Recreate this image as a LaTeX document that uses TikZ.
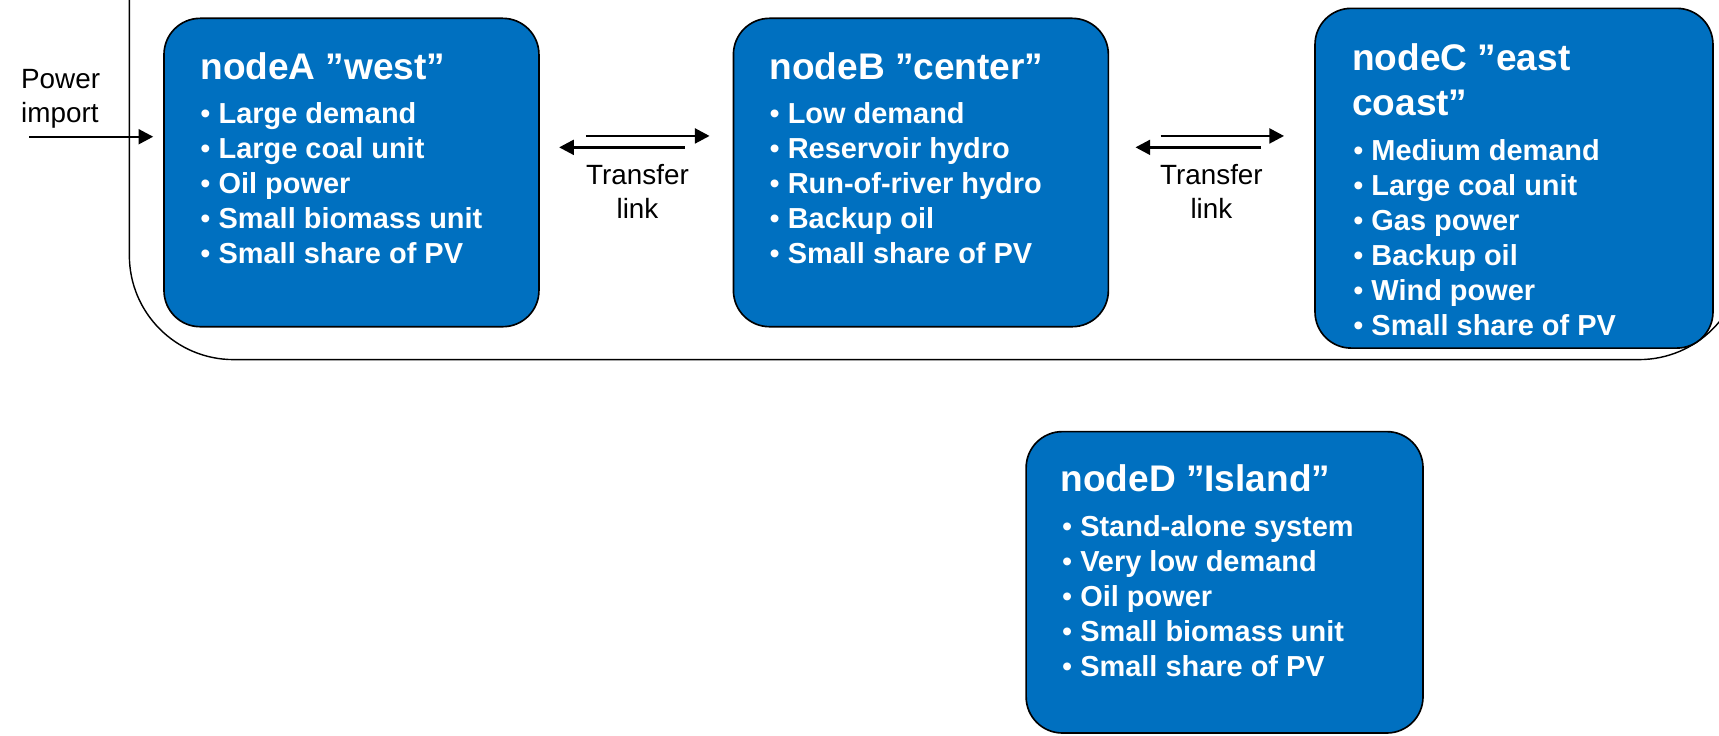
\documentclass[tikz,border=0pt]{standalone}
\usepackage{fontspec}
\setmainfont{Liberation Sans}
\usetikzlibrary{arrows.meta}
\definecolor{nodeblue}{HTML}{0070C0}
\newcommand\stackl[1]{\vtop{\halign{##\hfil\cr#1\crcr}}}
\newcommand\stackc[1]{\vtop{\halign{\hfil##\hfil\cr#1\crcr}}}
\newcommand\bul{{\mdseries •}}
\tikzset{
  zone/.style={draw=black, line width=0.75pt, fill=nodeblue, rounded corners=16.5pt, inner sep=0pt},
  ttl/.style={anchor=base west, inner sep=0pt, text=white, font=\fontsize{16.9}{20.5}\selectfont\bfseries},
  itm/.style={anchor=base west, inner sep=0pt, text=white, font=\fontsize{13.2}{16}\selectfont\bfseries},
  lbl/.style={inner sep=0pt, font=\fontsize{12.7}{15.3}\selectfont},
  flow/.style={line width=1.1pt, -{Triangle[length=6.7pt,width=6.8pt]}},
  outer/.style={draw=black, line width=0.65pt, rounded corners=47.5pt},
}
\begin{document}
\begin{tikzpicture}[x=0.5pt, y=-0.5pt]
\path[use as bounding box, clip] (0,0) rectangle (1568,671);
% outer frame
\draw[outer] (118,-80) -- (118,328) -- (1590,328) -- (1590,-80);
% boxes
\node[zone, minimum width=171pt, minimum height=140.65pt] (A) at (320.6,157.35) {};
\node[zone, minimum width=171pt, minimum height=140.65pt] (B) at (840,157.35) {};
\node[zone, minimum width=181.5pt, minimum height=154.95pt] (C) at (1381,162.55) {};
\node[zone, minimum width=181pt, minimum height=137.45pt] (D) at (1117,531.15) {};
% titles
\node[ttl] (At) at (182.4,72.1) {nodeA ”west”};
\node[ttl] (Bt) at (701.6,72.1) {nodeB ”center”};
\node[ttl] (Ct) at (1233,63.9) {\stackl{nodeC ”east\cr coast”}};
\node[ttl] (Dt) at (967,448.5) {nodeD ”Island”};
% items
\foreach \t [count=\i from 0] in {Large demand,Large coal unit,Oil power,Small biomass unit,Small share of PV}
  \node[itm] (A\i) at (182.4,112.5+32*\i) {\bul\ \t};
\foreach \t [count=\i from 0] in {Low demand,Reservoir hydro,Run-of-river hydro,Backup oil,Small share of PV}
  \node[itm] (B\i) at (701.6,112.5+32*\i) {\bul\ \t};
\foreach \t [count=\i from 0] in {Medium demand,Large coal unit,Gas power,Backup oil,Wind power,Small share of PV}
  \node[itm] (C\i) at (1234,146+31.95*\i) {\bul\ \t};
\foreach \t [count=\i from 0] in {Stand-alone system,Very low demand,Oil power,Small biomass unit,Small share of PV}
  \node[itm] (D\i) at (968.4,489.5+31.95*\i) {\bul\ \t};
% labels
\node[lbl, anchor=base west] (pin) at (18.9,81) {\stackl{Power\cr import}};
\node[lbl, anchor=base] (tab) at (581.5,168.7) {\stackc{Transfer\cr link}};
\node[lbl, anchor=base] (tbc) at (1105,168.7) {\stackc{Transfer\cr link}};
% arrows
\coordinate (pstart) at (26.8,124.7);
\coordinate (yt) at (0,124);
\coordinate (yb) at (0,134.4);
\draw[flow, shorten >=4.55pt] (pstart) -- (pstart -| A.west);
\draw[flow, shorten <=21pt, shorten >=10.5pt] (A.east |- yt) -- (B.west |- yt);
\draw[flow, shorten <=21.8pt, shorten >=8.85pt] (B.west |- yb) -- (A.east |- yb);
\draw[flow, shorten <=23.5pt, shorten >=13.75pt] (B.east |- yt) -- (C.west |- yt);
\draw[flow, shorten <=24.25pt, shorten >=12pt] (C.west |- yb) -- (B.east |- yb);
\end{tikzpicture}
\end{document}
